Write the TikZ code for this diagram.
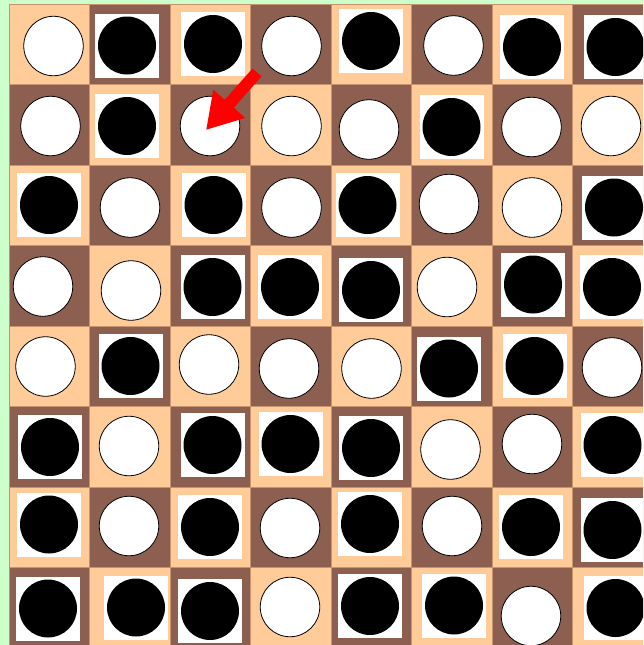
\documentclass[tikz,border=0pt]{standalone}
\usetikzlibrary{arrows.meta}
\definecolor{peach}{HTML}{FFCC99}
\definecolor{brownsq}{HTML}{8C5F50}
\definecolor{bggreen}{HTML}{CCFFCC}
\definecolor{gridline}{HTML}{C8946E}
\begin{document}
\begin{tikzpicture}[x=1pt,y=-1pt,
  stoneW/.style={circle, fill=white, draw=black, line width=0.8pt, minimum size=59.5pt, inner sep=0pt},
  stoneB/.style={rectangle, fill=white, minimum size=64pt, inner sep=0pt,
     path picture={\fill[black] (path picture bounding box.center) circle (29pt);}},
  cellbox/.style={draw=gridline, line width=0.8pt}]
\useasboundingbox (0,0) rectangle (643,645);
\fill[bggreen] (0,0) rectangle (643,645);
\begin{scope}
\clip (0,0) rectangle (643,645);
\foreach \r in {0,...,7}{
  \foreach \c in {0,...,7}{
    \pgfmathparse{mod(\r+\c,2)==0 ? "peach" : "brownsq"}
    \edef\col{\pgfmathresult}
    \filldraw[cellbox, fill=\col] (9+80.5*\c,4+80.5*\r) rectangle ++(80.5,80.5);
  }
}
\foreach \p/\x/\y [count=\i from 0] in {
  W/53.5/46, B/127/45.5, B/213/44, W/291.5/46, B/371/41, W/453.5/45.5, B/532/47, B/615.5/47,
  W/50.5/126, B/127/126, W/210/126, W/291.5/126, W/369/129.5, B/451.5/127, W/531.5/127, W/611/126,
  B/49/205, W/130/207.5, B/213.5/205, W/291.5/207.5, B/367.5/205, W/449/204, W/532/207.5, B/614/207.5,
  W/43/286.5, W/131/290.5, B/212.5/287, B/290/287, B/371/290, W/447/287, B/533/284.5, B/612/287,
  W/45.5/366.5, B/130.5/366, W/209/364.5, W/289/368.5, W/371.5/368.5, B/449/368.5, B/534.5/366, W/612/367.5,
  B/50/447, W/129/446, B/212.5/445, B/290.5/444, B/371/448, W/450.5/449.5, W/532/444, B/612.5/445,
  B/49/524.5, W/129/526, B/210/527, W/290/528, B/370/524, W/452/526, B/531/527, B/612.5/530,
  B/48/608.5, B/136/607.5, B/210/611, W/290/607, B/370/606, B/454/605.5, W/531/616, B/615.5/608}{
  \node[stone\p] (s-\i) at (\x,\y) {};
}
\end{scope}
\coordinate (tail) at (257,72.5);
\coordinate (tip) at (206,130);
\draw[red, line width=12pt, -{Triangle[length=35pt,width=40pt]}] (tail) -- (tip);
\end{tikzpicture}
\end{document}
